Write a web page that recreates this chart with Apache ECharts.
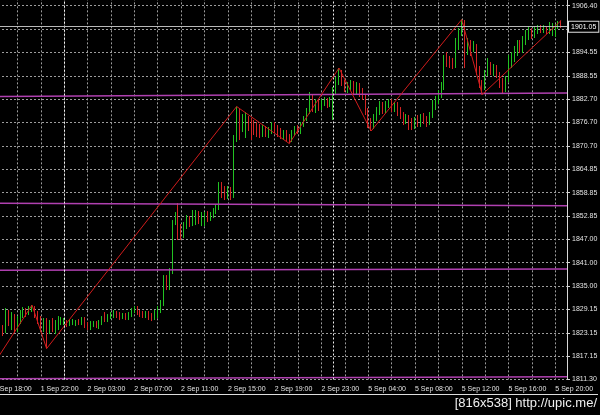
<!DOCTYPE html>
<html>
<head>
<meta charset="utf-8">
<script src="https://cdn.jsdelivr.net/npm/echarts@6/dist/echarts.min.js"></script>
<style>
html,body{margin:0;padding:0;background:#000;}
#chart{width:600px;height:415px;}
</style>
</head>
<body>
<div id="chart"></div>
<script>
// ---- time axis (M15 bars, server day starts 01:00) ----
const sessions = [
  {day: '1 Sep', fromHour: 18, toHour: 23},
  {day: '2 Sep', fromHour: 1, toHour: 23},
  {day: '5 Sep', fromHour: 1, toHour: 21}
];
const axisSlots = 197;            // categories spanning the plot width
const firstBar = '1 Sep 18:45';   // first candle drawn
const daySeparators = ['2 Sep 01:00', '5 Sep 01:00'];

// ---- OHLC (XAUUSD M15) ----
const open = [
1824.64,1823.88,1828.46,1825.15,1827.44,1824.39,1826.43,1827.95,1828.97,1828.21,
1829.48,1829.99,1827.95,1826.94,1824.64,1825.92,1823.88,1825.92,1824.39,1825.15,
1825.92,1825.66,1825.92,1825.41,1825.66,1825.41,1826.17,1825.66,1826.43,1825.15,
1824.64,1825.15,1825.66,1824.90,1825.66,1827.70,1826.43,1827.19,1827.44,1828.21,
1827.70,1827.19,1827.70,1826.94,1827.70,1828.72,1829.23,1828.46,1828.21,1827.44,
1828.21,1827.70,1826.94,1827.95,1828.97,1830.50,1837.11,1834.82,1838.64,1851.36,
1852.63,1849.84,1847.80,1850.09,1851.87,1850.85,1851.36,1853.40,1851.36,1851.11,
1853.40,1852.13,1852.89,1853.91,1854.92,1860.78,1858.74,1857.72,1859.50,1857.98,
1872.23,1879.35,1875.28,1874.77,1877.83,1876.04,1876.30,1875.79,1875.28,1873.75,
1875.28,1873.75,1874.52,1876.04,1875.28,1874.26,1872.99,1874.01,1872.48,1872.23,
1873.75,1875.28,1874.26,1876.04,1877.57,1879.35,1883.17,1879.86,1881.90,1880.37,
1881.39,1882.41,1881.13,1879.86,1884.69,1886.98,1889.53,1886.73,1884.95,1885.97,
1886.73,1884.95,1886.22,1884.44,1883.42,1879.35,1876.30,1875.54,1877.83,1879.35,
1881.39,1879.86,1881.13,1882.15,1880.37,1881.39,1879.86,1878.59,1877.06,1878.08,
1876.81,1875.54,1877.83,1876.30,1878.33,1877.32,1876.81,1878.33,1880.37,1882.41,
1883.42,1885.46,1893.35,1892.58,1892.07,1891.06,1896.15,1899.71,1902.25,1894.62,
1896.91,1895.13,1896.15,1890.04,1886.22,1885.46,1889.02,1891.57,1889.53,1890.80,
1888.77,1886.98,1885.46,1887.49,1891.57,1893.09,1894.62,1896.65,1895.13,1897.16,
1898.69,1900.22,1898.69,1899.96,1900.73,1899.96,1900.73,1899.96,1900.47,1900.22,
1900.98,1902.51];
const close = [
1823.12,1828.97,1825.92,1827.70,1824.39,1826.94,1828.46,1828.97,1827.95,1829.73,
1829.99,1827.95,1826.43,1824.39,1825.92,1823.88,1825.92,1824.39,1825.66,1826.94,
1826.43,1825.92,1825.41,1825.92,1826.17,1826.17,1825.66,1826.43,1824.90,1824.64,
1825.66,1825.66,1824.90,1825.92,1826.94,1826.43,1827.44,1827.95,1828.21,1827.44,
1826.94,1827.70,1826.94,1827.95,1828.97,1829.48,1828.21,1827.70,1827.44,1828.21,
1827.19,1826.68,1828.46,1829.48,1830.75,1837.37,1835.08,1839.15,1851.36,1852.63,
1848.82,1847.80,1850.34,1851.87,1850.85,1853.14,1853.65,1851.87,1853.14,1853.40,
1852.13,1853.40,1854.42,1855.18,1861.03,1858.23,1857.72,1859.50,1857.98,1872.74,
1879.86,1874.77,1877.83,1878.08,1875.28,1873.50,1874.26,1873.75,1873.50,1875.28,
1873.75,1875.03,1876.30,1874.77,1873.75,1872.99,1874.26,1872.23,1871.97,1874.26,
1875.28,1874.26,1876.30,1877.83,1879.86,1883.42,1880.37,1881.90,1880.12,1881.90,
1882.41,1881.13,1882.41,1884.95,1887.49,1890.04,1886.48,1884.95,1886.48,1886.98,
1884.95,1886.48,1883.93,1883.17,1879.35,1876.04,1875.28,1878.08,1879.86,1881.39,
1879.86,1881.64,1882.15,1880.37,1881.39,1879.10,1878.08,1876.81,1878.33,1875.54,
1875.28,1877.32,1876.30,1878.08,1877.06,1876.30,1878.84,1880.88,1882.41,1883.93,
1885.97,1893.09,1891.82,1891.06,1891.06,1896.40,1900.22,1902.25,1895.13,1897.16,
1895.13,1896.65,1890.04,1886.22,1884.44,1889.53,1892.07,1889.53,1891.06,1888.77,
1886.22,1885.46,1887.49,1891.57,1893.60,1895.13,1896.65,1895.13,1897.67,1899.20,
1900.22,1898.69,1900.22,1900.73,1899.96,1900.73,1899.96,1900.98,1901.23,1900.98,
1902.25,1901.05];
const low = [
1822.36,1823.12,1824.90,1823.88,1823.12,1823.37,1825.41,1826.94,1827.19,1827.70,
1828.46,1826.94,1825.41,1823.37,1823.37,1819.17,1822.86,1823.37,1822.86,1823.88,
1825.15,1825.15,1824.64,1824.90,1825.15,1824.90,1825.15,1825.15,1824.39,1823.88,
1823.88,1824.64,1824.39,1824.14,1825.15,1825.92,1825.92,1826.68,1826.94,1826.94,
1826.43,1826.68,1826.43,1826.43,1827.19,1828.21,1827.70,1827.19,1826.94,1826.94,
1826.43,1826.17,1826.43,1826.94,1828.21,1829.99,1834.06,1834.06,1838.13,1850.60,
1846.78,1846.78,1847.29,1849.58,1850.09,1850.34,1850.60,1850.85,1850.34,1850.34,
1851.36,1851.62,1852.38,1853.40,1854.42,1857.47,1856.96,1857.21,1856.96,1857.47,
1871.72,1872.23,1874.26,1872.74,1874.52,1872.23,1873.50,1872.99,1872.74,1872.99,
1872.99,1872.74,1873.75,1874.01,1872.99,1872.48,1872.23,1871.72,1871.34,1871.72,
1873.25,1873.75,1873.75,1875.54,1877.06,1878.84,1879.35,1879.10,1879.61,1879.86,
1880.88,1880.37,1880.62,1877.32,1883.93,1886.22,1885.97,1884.44,1884.19,1884.95,
1883.93,1883.68,1883.17,1882.41,1878.59,1875.28,1874.52,1875.03,1877.06,1878.59,
1878.84,1879.10,1880.37,1879.35,1879.35,1878.33,1877.57,1876.04,1876.30,1874.77,
1874.77,1875.03,1875.54,1875.54,1876.30,1875.54,1876.04,1877.83,1879.86,1881.39,
1882.91,1884.95,1890.80,1890.55,1890.29,1890.55,1895.13,1898.69,1890.55,1893.86,
1893.60,1894.62,1888.77,1885.46,1883.80,1884.95,1888.51,1888.77,1888.51,1888.00,
1885.46,1884.19,1884.44,1886.98,1890.55,1892.07,1893.60,1894.36,1894.36,1896.40,
1897.67,1897.93,1898.18,1899.20,1899.45,1899.45,1899.20,1899.20,1898.69,1898.44,
1900.47,1900.73];
const high = [
1825.15,1829.48,1828.97,1828.46,1827.95,1827.44,1828.97,1829.73,1829.48,1829.99,
1830.24,1829.99,1828.72,1827.44,1826.94,1826.94,1826.43,1826.94,1826.43,1827.44,
1827.19,1826.94,1826.43,1826.43,1826.68,1826.43,1826.68,1827.19,1827.19,1825.92,
1826.17,1826.17,1826.17,1826.43,1827.44,1828.46,1827.95,1828.46,1828.97,1828.72,
1828.46,1828.21,1828.21,1828.46,1829.48,1829.99,1829.99,1828.97,1828.72,1828.72,
1828.72,1828.21,1828.97,1829.99,1831.52,1837.87,1837.87,1839.66,1851.87,1853.91,
1856.20,1850.85,1851.36,1853.14,1852.89,1854.42,1854.42,1854.16,1853.91,1853.91,
1854.16,1853.91,1854.92,1855.94,1861.54,1861.54,1860.52,1860.52,1860.27,1873.50,
1880.75,1880.12,1878.84,1879.35,1878.33,1877.83,1877.32,1876.81,1876.30,1876.04,
1875.79,1875.54,1876.81,1876.81,1876.04,1875.28,1874.77,1874.77,1873.75,1874.77,
1875.79,1876.04,1876.81,1878.33,1880.37,1884.44,1883.68,1882.66,1882.41,1882.66,
1883.17,1882.91,1883.17,1885.71,1888.26,1890.55,1890.04,1887.49,1886.98,1887.49,
1887.24,1886.98,1886.73,1885.46,1883.93,1880.37,1877.83,1878.84,1880.62,1882.15,
1881.90,1882.15,1882.66,1882.66,1881.90,1881.90,1880.62,1879.35,1878.84,1878.59,
1877.83,1878.08,1878.59,1878.84,1879.10,1878.33,1879.35,1882.41,1883.42,1884.95,
1886.98,1893.86,1894.62,1893.60,1893.09,1898.18,1900.73,1902.89,1902.76,1898.18,
1897.67,1897.42,1896.65,1891.06,1887.49,1890.04,1893.09,1892.07,1891.57,1891.31,
1889.53,1888.00,1888.51,1893.86,1894.62,1896.15,1897.67,1897.67,1898.69,1900.22,
1900.98,1900.73,1901.23,1901.49,1901.49,1901.49,1901.23,1902.25,1902.00,1901.74,
1902.51,1902.63];

// ---- ZigZag indicator turning points (category index, price) ----
const zigIndex = [0, 13, 18, 83, 101, 118, 129, 160, 167, 194];
const zigPrice = [1815.33, 1830.24, 1819.17, 1880.75, 1871.34, 1890.55, 1874.52, 1902.89, 1883.80, 1902.63];

// ---- magenta trend lines (price at left edge, price at right edge) ----
const levelLeft  = [1883.29, 1856.12, 1839.10, 1811.49];
const levelRight = [1884.19, 1855.48, 1839.40, 1811.97];

// ---- price scale ----
const yMin = 1811.30;
const yStep = 5.94375;
const yTickLabels = ['1811.30','1817.15','1823.15','1829.15','1835.00','1841.00','1847.00','1852.85',
  '1858.85','1864.85','1870.70','1876.70','1882.70','1888.55','1894.55','','1906.40'];

// ---- build categories ----
const categories = [];
sessions.forEach(s => {
  for (let h = s.fromHour; h <= s.toHour; h++) {
    for (let m = 0; m < 60; m += 15) {
      categories.push(s.day + ' ' + String(h).padStart(2, '0') + ':' + String(m).padStart(2, '0'));
    }
  }
});
categories.length = axisSlots;

const start = categories.indexOf(firstBar);
const candleData = categories.map((c, i) => {
  const k = i - start;
  if (k < 0 || k >= open.length) return '-';
  return [open[k], close[k], low[k], high[k]];
});
const lastClose = close[close.length - 1];
const zigData = zigIndex.map((ix, j) => [ix, zigPrice[j]]);

const FONT = '"Liberation Sans", Arial, sans-serif';
const txt = '#e4e4e4';
const gridStyle = {color: '#9c9c9c', type: [2, 2], width: 1};

const series = [
  {
    type: 'candlestick',
    data: candleData,
    barWidth: 1.2,
    itemStyle: {color: '#22c322', color0: '#d42424', borderColor: '#22c322', borderColor0: '#d42424', borderWidth: 1},
    z: 2,
    markLine: {
      silent: true, symbol: 'none', animation: false,
      data: [
        {xAxis: daySeparators[0], lineStyle: {color: '#eeeeee', type: [2, 2], width: 1}, label: {show: false}},
        {xAxis: daySeparators[1], lineStyle: {color: '#eeeeee', type: [2, 2], width: 1}, label: {show: false}},
        {yAxis: lastClose, lineStyle: {color: '#b8b8b8', type: 'solid', width: 1},
          label: {show: true, position: 'end', distance: 2, formatter: lastClose.toFixed(2),
            color: '#ffffff', fontSize: 7, fontFamily: FONT, backgroundColor: '#000',
            borderColor: '#e0e0e0', borderWidth: 1, padding: [2, 2, 1, 2]}}
      ]
    }
  },
  {
    type: 'line', data: zigData, showSymbol: false, z: 4,
    lineStyle: {color: '#d01c1c', width: 1}
  }
];
levelLeft.forEach((v, j) => {
  series.push({
    type: 'line', data: [[0, v], [axisSlots - 1, levelRight[j]]], showSymbol: false, z: 3,
    lineStyle: {color: '#b040b0', width: 1.5}
  });
});

const chart = echarts.init(document.getElementById('chart'), null, {renderer: 'canvas'});
chart.setOption({
  backgroundColor: '#000',
  animation: false,
  grid: {left: -6, top: -17.66, width: 573, height: 397.16, containLabel: false, outerBoundsMode: 'none'},
  xAxis: {
    type: 'category', data: categories, boundaryGap: false,
    axisLine: {show: false}, axisTick: {show: false},
    axisLabel: {interval: i => i % 16 === 0, align: 'left', color: txt, fontSize: 7, fontFamily: FONT, margin: 6},
    splitLine: {show: true, interval: i => i % 8 === 0, lineStyle: gridStyle}
  },
  yAxis: {
    type: 'value', position: 'right', min: yMin, max: yMin + 17 * yStep, interval: yStep,
    axisLine: {show: true, onZero: false, lineStyle: {color: '#d8d8d8', width: 1}},
    axisTick: {show: true, length: 3, lineStyle: {color: '#d8d8d8'}},
    axisLabel: {color: txt, fontSize: 7, fontFamily: FONT, margin: 5,
      formatter: v => { const t = yTickLabels[Math.round((v - yMin) / yStep)]; return t === undefined ? '' : t; }},
    splitLine: {show: true, lineStyle: gridStyle}
  },
  graphic: [
    {type: 'line', shape: {x1: 0, y1: 394.5, x2: 598, y2: 394.5}, style: {stroke: '#dcdcdc', lineWidth: 1}},
    {type: 'text', right: 3, top: 397, style: {text: '[816x538] http://upic.me/', fill: '#f0f0f0', font: '13px ' + FONT}}
  ],
  series: series
});
</script>
</body>
</html>
